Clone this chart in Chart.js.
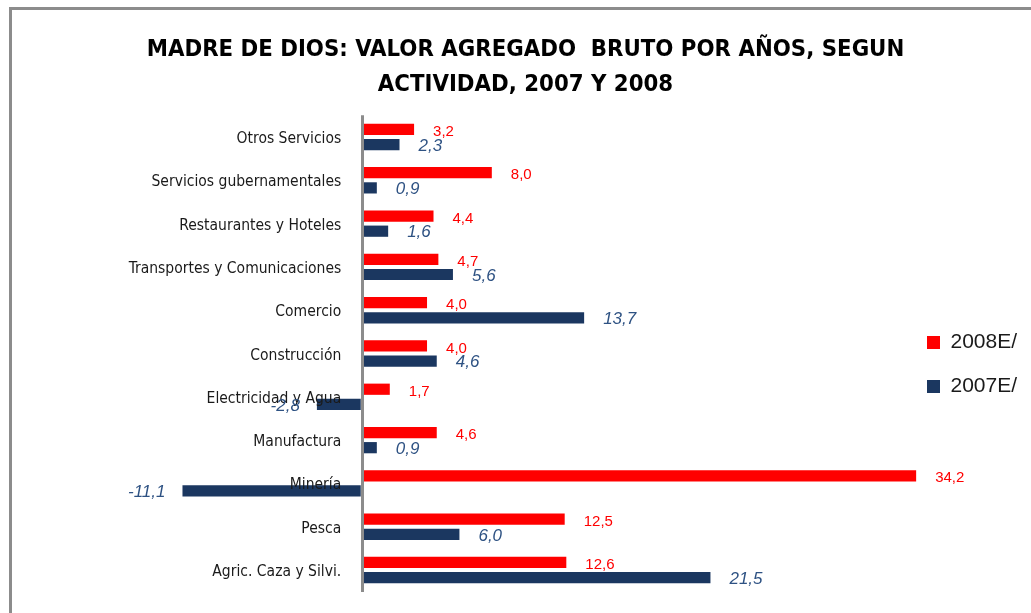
<!DOCTYPE html>
<html>
<head>
<meta charset="utf-8">
<script src="https://cdn.jsdelivr.net/npm/chart.js@4.4.1/dist/chart.umd.min.js"></script>
<style>
  html, body { margin: 0; padding: 0; background: #fff; overflow: hidden; }
  #frame { position: absolute; left: 9px; top: 7px; width: 2000px; height: 2000px;
           border-left: 3px solid #8c8c8c; border-top: 3px solid #8c8c8c; }
  #wrap { position: absolute; left: 0; top: 0; width: 1031px; height: 613px; }
</style>
</head>
<body>
<div id="frame"></div>
<div id="wrap"><canvas id="vab"></canvas></div>
<script>
const categories = ['Otros Servicios', 'Servicios gubernamentales', 'Restaurantes y Hoteles',
  'Transportes y Comunicaciones', 'Comercio', 'Construcción', 'Electricidad y Agua',
  'Manufactura', 'Minería', 'Pesca', 'Agric. Caza y Silvi.'];
const values2008 = [3.2, 8.0, 4.4, 4.7, 4.0, 4.0, 1.7, 4.6, 34.2, 12.5, 12.6];
const values2007 = [2.3, 0.9, 1.6, 5.6, 13.7, 4.6, -2.8, 0.9, -11.1, 6.0, 21.5];
const seriesNames = ['2008E/', '2007E/'];

const narrow = '"Liberation Sans Narrow", "DejaVu Sans Condensed", "Liberation Sans", sans-serif';

// category names sit just left of the zero line, on top of the bars
const categoryLabels = {
  id: 'categoryLabels',
  afterDatasetsDraw(chart) {
    const ctx = chart.ctx;
    const x0 = chart.scales.x.getPixelForValue(0);
    const yScale = chart.scales.y;
    ctx.save();
    ctx.font = '15.5px ' + narrow;
    ctx.fillStyle = '#1a1a1a';
    ctx.textAlign = 'right';
    ctx.textBaseline = 'middle';
    chart.data.labels.forEach((lab, i) => {
      ctx.fillText(lab, x0 - 21, yScale.getPixelForTick(i) + 2);
    });
    ctx.restore();
  }
};

// value labels, comma decimals like the original
const valueLabels = {
  id: 'valueLabels',
  afterDatasetsDraw(chart) {
    const ctx = chart.ctx;
    ctx.save();
    ctx.textBaseline = 'middle';
    chart.data.datasets.forEach((ds, di) => {
      const meta = chart.getDatasetMeta(di);
      ctx.font = di === 0 ? '15px "Liberation Sans", sans-serif' : 'italic 17px "Liberation Sans", sans-serif';
      ctx.fillStyle = di === 0 ? '#ff0000' : '#2e5283';
      meta.data.forEach((bar, i) => {
        const v = ds.data[i];
        const txt = v.toFixed(1).replace('.', ',');
        const dy = di === 0 ? 2.5 : 1.5;
        if (v >= 0) {
          ctx.textAlign = 'left';
          ctx.fillText(txt, bar.x + 19, bar.y + dy);
        } else {
          ctx.textAlign = 'right';
          ctx.fillText(txt, bar.x - 17, bar.y + dy);
        }
      });
    });
    ctx.restore();
  }
};

new Chart(document.getElementById('vab'), {
  type: 'bar',
  data: {
    labels: categories,
    datasets: [{
      label: seriesNames[0],
      data: values2008,
      backgroundColor: '#ff0000',
      categoryPercentage: 0.7,
      barPercentage: 0.74,
      clip: false
    }, {
      label: seriesNames[1],
      data: values2007,
      backgroundColor: '#1b3760',
      categoryPercentage: 0.7,
      barPercentage: 0.74,
      clip: false
    }]
  },
  options: {
    indexAxis: 'y',
    responsive: true,
    maintainAspectRatio: false,
    animation: false,
    layout: { padding: { left: 27, right: 7, top: 0, bottom: 21.35 } },
    scales: {
      x: {
        min: -20.7,
        max: 33.45,
        ticks: { display: false },
        border: { display: false },
        grid: {
          z: 1,
          drawTicks: false,
          lineWidth: 3,
          color: c => (c.tick && c.tick.value === 0) ? '#8c8c8c' : 'rgba(0,0,0,0)'
        },
        afterFit: s => { s.height = 0; }
      },
      y: { display: false }
    },
    plugins: {
      title: {
        display: true,
        text: ['MADRE DE DIOS: VALOR AGREGADO  BRUTO POR AÑOS, SEGUN', 'ACTIVIDAD, 2007 Y 2008'],
        color: '#000',
        font: { family: narrow, size: 23.7, weight: 'bold', lineHeight: 1.477 },
        padding: { top: 32.5, bottom: 12.85 }
      },
      legend: {
        position: 'right',
        fullSize: false,
        maxWidth: 120,
        title: { display: true, text: '', padding: 5, font: { size: 10, lineHeight: 1.2 } },
        labels: {
          boxWidth: 13,
          boxHeight: 13,
          padding: 23,
          color: '#1a1a1a',
          font: { family: '"Liberation Sans", sans-serif', size: 21 }
        }
      },
      tooltip: { enabled: false }
    }
  },
  plugins: [categoryLabels, valueLabels]
});
</script>
</body>
</html>
